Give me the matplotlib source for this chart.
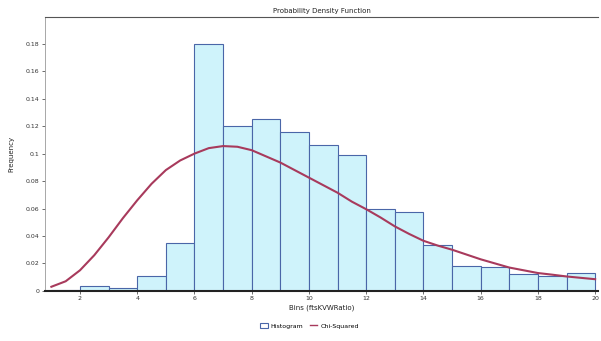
import matplotlib

matplotlib.use("Agg")
import matplotlib.pyplot as plt
from matplotlib.lines import Line2D
from matplotlib.patches import Patch

# histogram bins (left edges, width 1) and frequencies
bin_lefts = [1, 2, 3, 4, 5, 6, 7, 8, 9, 10, 11, 12, 13, 14, 15, 16, 17, 18, 19]
frequencies = [0.0006, 0.0036, 0.0022, 0.0112, 0.0348, 0.180, 0.120, 0.125, 0.116,
               0.1065, 0.099, 0.060, 0.0577, 0.0331, 0.018, 0.0176, 0.0122, 0.0112, 0.0127]

# fitted chi-squared curve
curve_x = [1, 1.5, 2, 2.5, 3, 3.5, 4, 4.5, 5, 5.5, 6, 6.5, 7, 7.5, 8, 8.5, 9, 9.5, 10,
           10.5, 11, 11.5, 12, 12.5, 13, 13.5, 14, 14.5, 15, 15.5, 16, 16.5, 17, 17.5,
           18, 18.5, 19, 19.5, 20]
curve_y = [0.003, 0.007, 0.015, 0.026, 0.039, 0.053, 0.066, 0.078, 0.088, 0.095, 0.100,
           0.104, 0.1055, 0.105, 0.1025, 0.098, 0.0935, 0.088, 0.0825, 0.077, 0.0715,
           0.065, 0.0595, 0.0535, 0.047, 0.0415, 0.0365, 0.033, 0.0300, 0.0265, 0.023,
           0.020, 0.017, 0.015, 0.013, 0.0118, 0.0105, 0.0095, 0.0085]

x_ticks = [2, 4, 6, 8, 10, 12, 14, 16, 18, 20]
y_ticks = [0, 0.02, 0.04, 0.06, 0.08, 0.1, 0.12, 0.14, 0.16, 0.18]
y_tick_labels = ["0", "0.02", "0.04", "0.06", "0.08", "0.1", "0.12", "0.14", "0.16", "0.18"]

BAR_FACE = "#cff3fb"
BAR_EDGE = "#4a66a8"
CURVE = "#a83a5c"

fig = plt.figure(figsize=(6.01, 3.41), dpi=100)
ax = fig.add_axes([0.075, 0.147, 0.92, 0.803])

ax.bar(bin_lefts, frequencies, width=1, align="edge", color=BAR_FACE,
       edgecolor=BAR_EDGE, linewidth=0.8, zorder=2)
ax.plot(curve_x, curve_y, color=CURVE, linewidth=1.5, zorder=3)

ax.set_xlim(0.78, 20.1)
ax.set_ylim(0, 0.1995)
ax.set_xticks(x_ticks)
ax.set_yticks(y_ticks)
ax.set_yticklabels(y_tick_labels)
ax.tick_params(labelsize=4.5, length=2, width=0.5, colors="#333333", pad=2)

ax.spines["right"].set_visible(False)
ax.spines["top"].set_color("#555555")
ax.spines["top"].set_linewidth(0.8)
ax.spines["left"].set_color("#999999")
ax.spines["left"].set_linewidth(0.6)
ax.spines["left"].set_linestyle((0, (2, 1)))
ax.spines["bottom"].set_color("#222222")
ax.spines["bottom"].set_linewidth(1.5)

ax.set_xlabel("Bins (ftsKVWRatio)", fontsize=5, color="#222222", labelpad=2)
ax.set_ylabel("Frequency", fontsize=5, color="#222222", labelpad=8)
ax.set_title("Probability Density Function", fontsize=5, color="#222222", pad=3)

handles = [
    Patch(facecolor="white", edgecolor=BAR_EDGE, linewidth=0.8, label="Histogram"),
    Line2D([0], [0], color=CURVE, linewidth=1.0, label="Chi-Squared"),
]
fig.legend(handles=handles, loc="center", bbox_to_anchor=(0.515, 0.045), ncol=2,
           frameon=False, fontsize=4.5, handlelength=1.2, handleheight=0.9,
           columnspacing=1.0, handletextpad=0.5)

fig.savefig("out.png", dpi=100)
plt.close(fig)
